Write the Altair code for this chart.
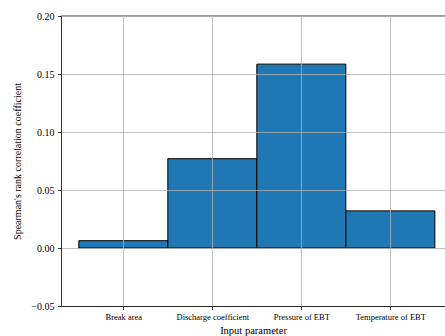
import altair as alt
import pandas as pd

# Spearman rank correlation of each input parameter with the output
categories = ["Break area", "Discharge coefficient", "Pressure of EBT", "Temperature of EBT"]
values = [0.0063, 0.077, 0.1585, 0.032]
y_ticks = [-0.05, 0.0, 0.05, 0.10, 0.15, 0.20]

df = pd.DataFrame({
    "idx": list(range(len(categories))),
    "name": categories,
    "value": values,
})
df["lo"] = df["idx"] - 0.5
df["hi"] = df["idx"] + 0.5

FONT = "Liberation Serif, Times New Roman, serif"
label_expr = "[" + ",".join(f"'{c}'" for c in categories) + "][datum.value]"

x_scale = alt.Scale(domain=[-0.7, 3.614], nice=False, zero=False)
y_scale = alt.Scale(domain=[-0.05, 0.20], nice=False, zero=False)

bars = alt.Chart(df).mark_bar(
    color="#1f77b4", stroke="black", strokeWidth=1
).encode(
    x=alt.X("lo:Q", scale=x_scale, axis=alt.Axis(
        values=[0, 1, 2, 3], labelExpr=label_expr, title="Input parameter",
        grid=True, gridColor="#b0b0b0", gridWidth=0.8,
        domainColor="black", domainWidth=0.8, tickColor="black", tickSize=3.5,
        tickWidth=0.8, labelFont=FONT, labelFontSize=8.5, labelColor="black",
        labelPadding=3, titleFont=FONT, titleFontSize=10.5, titleFontWeight="normal",
        titleColor="black", titlePadding=4, zindex=1,
    )),
    x2="hi:Q",
    y=alt.Y("value:Q", scale=y_scale, axis=alt.Axis(
        values=y_ticks, format=".2f", title="Spearman's rank correlation coefficient",
        grid=True, gridColor="#b0b0b0", gridWidth=0.8,
        domainColor="black", domainWidth=0.8, tickColor="black", tickSize=3.5,
        tickWidth=0.8, labelFont=FONT, labelFontSize=10, labelColor="black",
        labelPadding=3.5, titleFont=FONT, titleFontSize=10, titleFontWeight="normal",
        titleColor="black", titlePadding=8, zindex=1,
    )),
    y2=alt.datum(0),
)

# top frame line
top = alt.Chart(pd.DataFrame({"y": [0.20]})).mark_rule(
    color="black", strokeWidth=0.8
).encode(y=alt.Y("y:Q", scale=y_scale))

chart = alt.layer(bars, top).properties(
    width=384, height=290,
    background="white",
    autosize=alt.AutoSizeParams(type="none"),
    padding={"left": 61, "top": 16, "right": 0, "bottom": 30},
).configure_view(stroke=None).configure_axis(labelFont=FONT, titleFont=FONT)

chart.save("out.html", embed_options={"renderer": "svg", "actions": False})
